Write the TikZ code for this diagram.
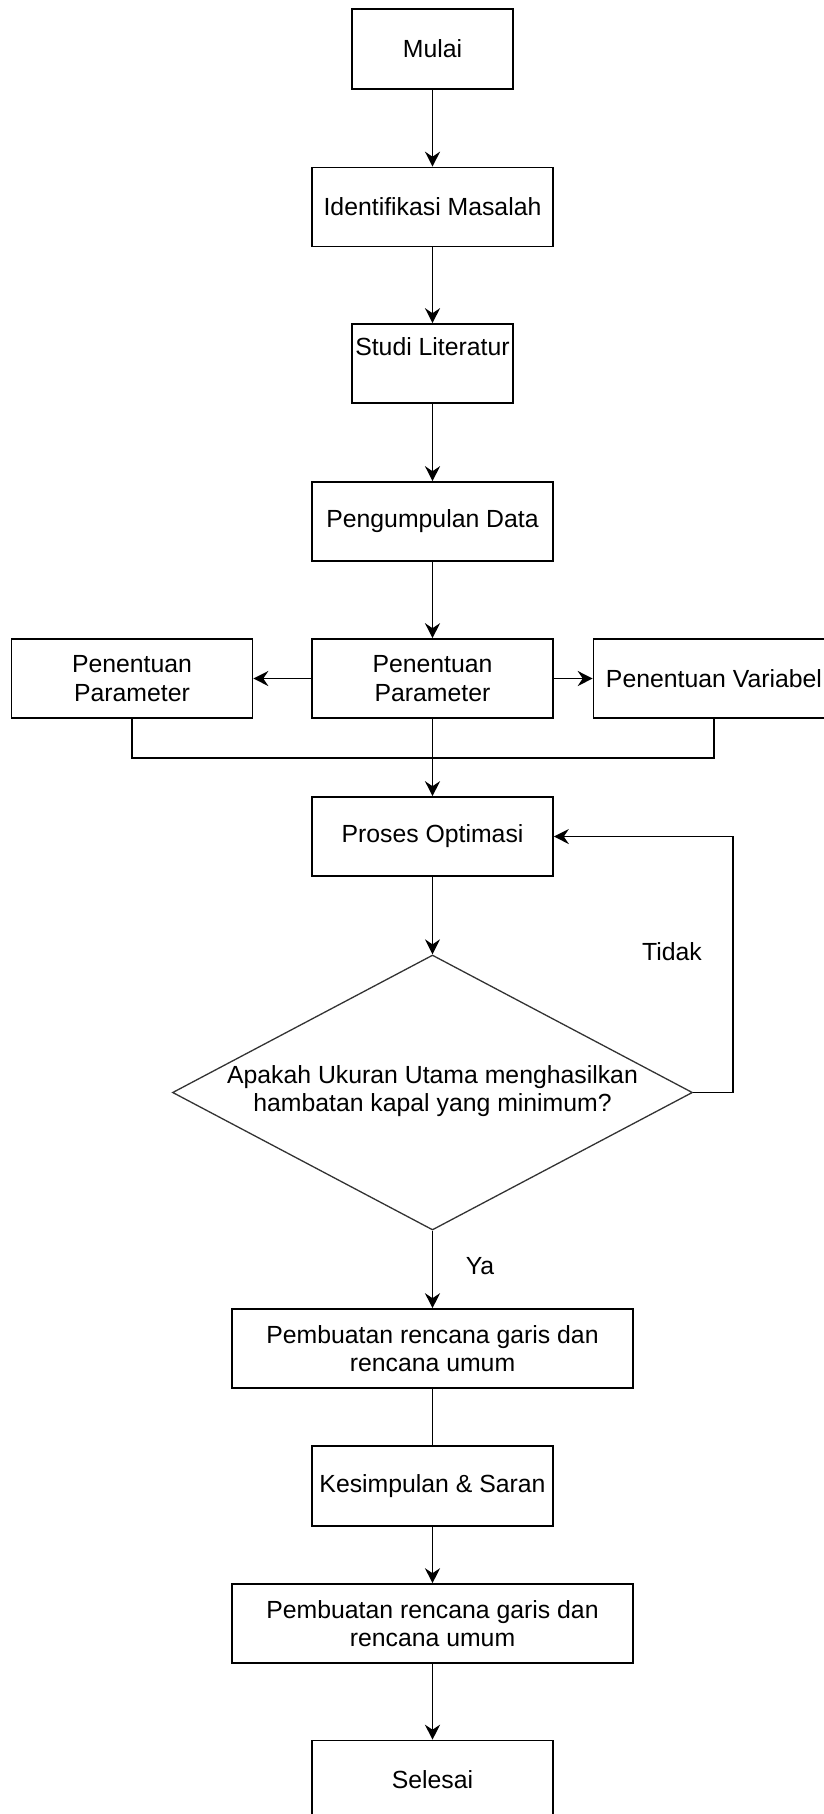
\documentclass[tikz,border=0pt]{standalone}
\usepackage{fontspec}
\setmainfont{Liberation Sans}
\usetikzlibrary{arrows.meta,shapes.geometric}
\begin{document}
\begin{tikzpicture}[x=1pt,y=-1pt,
  txt/.style={inner sep=0pt, align=center, font=\fontsize{24.8pt}{28.5pt}\selectfont},
  box/.style={txt, draw, line width=1.6pt, minimum width=241pt, minimum height=79pt},
  smallbox/.style={box, minimum width=161pt},
  widebox/.style={box, minimum width=401pt},
  dia/.style={draw=black!80, line width=1.3pt, shape=diamond, inner sep=0pt, minimum width=520pt, minimum height=275pt},
  ln/.style={line width=1.6pt},
  arr/.style={ln, -{Stealth[length=15pt,width=15pt,inset=5pt]}}
]
\useasboundingbox (0,0) rectangle (823,1814);

\node[smallbox, minimum height=80pt] (mulai) at (432.5,49) {Mulai};
\node[box] (ident) at (432.5,207) {Identifikasi Masalah};
\node[smallbox] (studi) at (432.5,363.5) {};
\node[txt] (studit) at (432.5,347) {Studi Literatur};
\node[box] (peng) at (432.5,521.5) {Pengumpulan Data};
\node[box] (penc) at (432.5,678.5) {Penentuan\\Parameter};
\node[box] (penl) at (132,678.5) {Penentuan\\Parameter};
\node[box] (penr) at (714,678.5) {Penentuan Variabel};
\node[box] (proses) at (432.5,836.5) {Proses Optimasi};
\node[dia] (dec) at (432.5,1092.5) {};
\node[txt] (dect) at (432.5,1091) {Apakah Ukuran Utama menghasilkan\\hambatan kapal yang minimum?};
\node[widebox] (pemb1) at (432.5,1348.5) {Pembuatan rencana garis dan\\rencana umum};
\node[box, minimum height=80pt] (kes) at (432.5,1486) {Kesimpulan \& Saran};
\node[widebox] (pemb2) at (432.5,1623.5) {Pembuatan rencana garis dan\\rencana umum};
\node[box] (selesai) at (432.5,1780) {Selesai};

\node[txt] (tidak) at (672,952) {Tidak};
\node[txt] (ya) at (480,1266) {Ya};

\coordinate (j) at (432.5,758);
\coordinate (loopx) at (733,1092.5);

\draw[arr] (mulai) -- (ident);
\draw[arr] (ident) -- (studi);
\draw[arr] (studi) -- (peng);
\draw[arr] (peng) -- (penc);
\draw[arr] (penc) -- (penl);
\draw[arr] (penc) -- (penr);
\draw[ln] (penl.south) |- (j);
\draw[ln] (penr.south) |- (j);
\draw[arr] (penc) -- (proses);
\draw[arr] (proses) -- (dec.north);
\draw[arr] (dec.east) -- (loopx) -- (loopx |- proses.east) -- (proses.east);
\draw[arr] (dec.south) -- (pemb1);
\draw[ln] (pemb1) -- (kes);
\draw[arr] (kes) -- (pemb2);
\draw[arr] (pemb2) -- (selesai);
\end{tikzpicture}
\end{document}
